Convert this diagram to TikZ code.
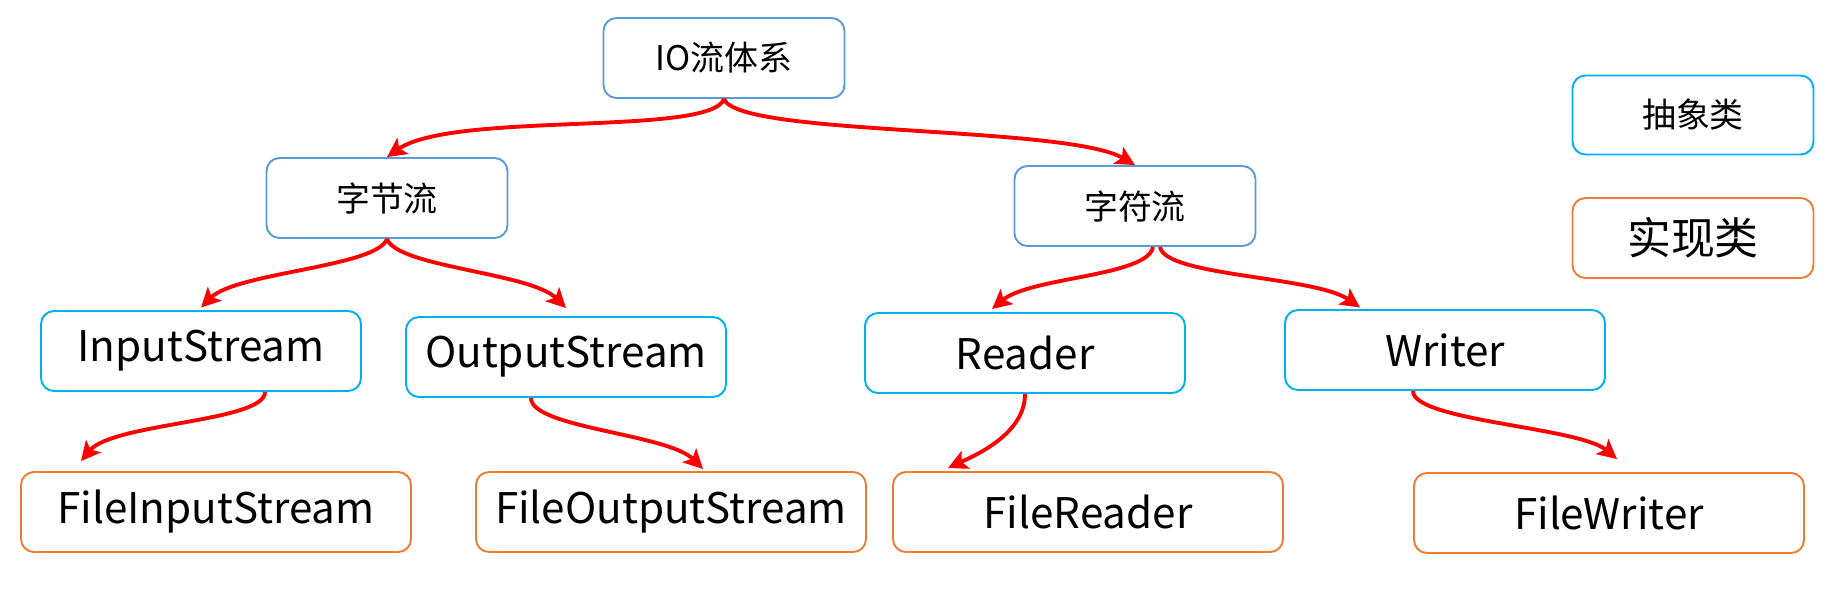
\documentclass[tikz,border=0pt]{standalone}
\usepackage{fontspec}
\setmainfont{Noto Sans CJK SC}
\usetikzlibrary{arrows.meta}
\definecolor{groupblue}{HTML}{5B9BD5}
\definecolor{abstractblue}{HTML}{00B0F0}
\definecolor{implorange}{HTML}{ED7D31}

\begin{document}
\begin{tikzpicture}[
        box/.style={draw, line width=1.1pt, rounded corners=0.26cm, minimum height=1.6cm, inner sep=0pt, font=\fontsize{19.3}{22}\selectfont},
        group/.style={box, draw=groupblue, minimum width=4.82cm},
        abstract/.style={box, draw=abstractblue, minimum width=6.4cm, font=\fontsize{24}{28}\selectfont},
        impl/.style={box, draw=implorange, minimum width=7.8cm, font=\fontsize{24}{28}\selectfont},
        flow/.style={draw=red, line width=2.2pt, -{Stealth[length=11pt,width=11pt,inset=2.5pt]}},
    ]
                \useasboundingbox (0,0) rectangle (36.88,-11.82);

                \node[group] (io) at (14.48,-1.16) {IO流体系};
                \node[group] (byte) at (7.74,-3.96) {字节流}; \node[group] (char) at (22.70,-4.12) {字符流};
                \node[abstract] (in) at (4.02,-7.02) {InputStream}; \node[abstract] (out) at (11.32,-7.14) {OutputStream};
                \node[abstract] (reader) at (20.50,-7.06) {Reader}; \node[abstract] (writer) at (28.90,-7.00) {Writer};
                \node[impl] (fin) at (4.32,-10.24) {FileInputStream}; \node[impl] (fout) at (13.42,-10.24) {FileOutputStream};
                \node[impl] (freader) at (21.76,-10.24) {FileReader}; \node[impl] (fwriter) at (32.18,-10.26) {FileWriter};

                % legend
                \node[box, draw=abstractblue, minimum width=4.82cm, minimum height=1.58cm] (abslegend) at (33.86,-2.30) {抽象类};
                \node[box, draw=implorange, minimum width=4.82cm, font=\fontsize{25}{28}\selectfont] (impllegend) at (33.86,-4.76) {实现类};

                \draw[flow] (io.south) to[out=-110,in=35,out distance=0.8cm,in distance=1.6cm] (byte.north);
                \draw[flow] (io.south) to[out=-70,in=150,out distance=0.8cm,in distance=1.6cm] (char.north);
                \draw[flow] (byte.south) to[out=-110,in=45,out distance=0.6cm,in distance=1cm] ([yshift=0.05cm]in.north);
                \draw[flow] (byte.south) to[out=-70,in=135,out distance=0.6cm,in distance=1cm] ([yshift=0.16cm]out.north);
                \draw[flow] ([xshift=0.36cm]char.south) to[out=-100,in=40,out distance=0.6cm,in distance=1cm] ([xshift=-0.66cm,yshift=0.06cm]reader.north);
                \draw[flow] ([xshift=0.5cm]char.south) to[out=-80,in=145,out distance=0.6cm,in distance=1.1cm] ([xshift=-1.7cm,yshift=0.03cm]writer.north);
                \draw[flow] ([xshift=1.28cm]in.south) to[out=-90,in=50,out distance=0.6cm,in distance=1cm] ([xshift=-2.7cm,yshift=0.2cm]fin.north);
                \draw[flow] ([xshift=-0.7cm]out.south) to[out=-90,in=135,out distance=0.6cm,in distance=1cm] ([xshift=0.64cm,yshift=0.04cm]fout.north);
                \draw[flow] (reader.south) to[out=-90,in=25,out distance=0.8cm,in distance=0.6cm] ([xshift=-2.8cm,yshift=0.06cm]freader.north);
                \draw[flow] ([xshift=-0.64cm]writer.south) to[out=-90,in=140,out distance=0.6cm,in distance=1cm] ([xshift=0.16cm,yshift=0.26cm]fwriter.north);
            \end{tikzpicture}
\end{document}
